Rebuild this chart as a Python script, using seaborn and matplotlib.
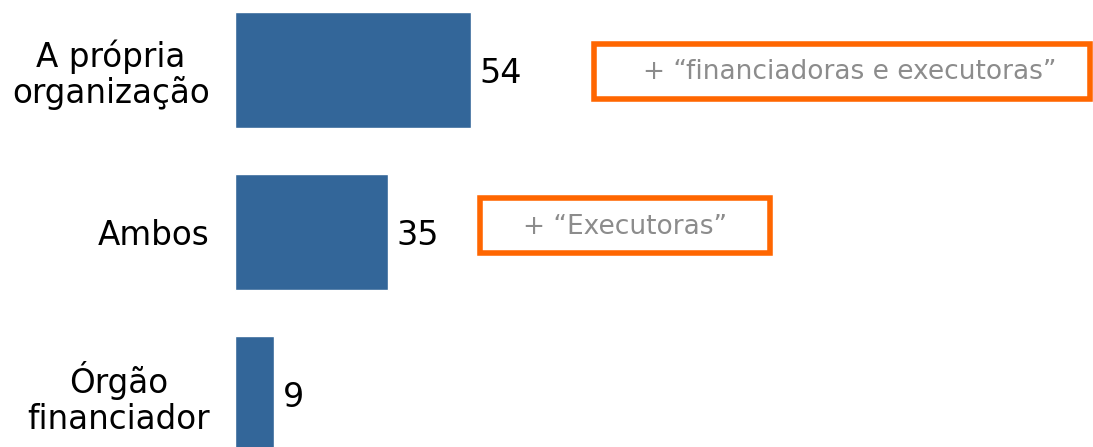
import pandas as pd
import matplotlib
matplotlib.use("Agg")
import matplotlib.pyplot as plt
import matplotlib.patches as mpatches
import seaborn as sns

# data
categories = ["A própria\norganização", "Ambos", "Órgão\nfinanciador"]
values = [54, 35, 9]
notes = ["+ \u201cfinanciadoras e executoras\u201d", "+ \u201cExecutoras\u201d"]

BAR_COLOR = "#336699"
BOX_COLOR = "#ff6600"
NOTE_COLOR = "#8c8c8c"


def main():
    sns.set_style("white")
    plt.rcParams["font.family"] = ["DejaVu Sans"]

    W, H = 1093, 447
    fig = plt.figure(figsize=(W / 100, H / 100), dpi=100)
    ax = fig.add_axes([235 / W, 0, 1 - 235 / W, 1])

    df = pd.DataFrame({"cat": categories, "val": values})
    sns.barplot(data=df, x="val", y="cat", color=BAR_COLOR, saturation=1,
                width=0.72, ax=ax)

    ax.set_xlim(0, (W - 235) / 4.37)
    ax.set_ylim(2 + 53 / 162, -70 / 162)
    ax.set_xlabel("")
    ax.set_ylabel("")
    ax.set_xticks([])
    sns.despine(ax=ax, left=True, bottom=True)
    ax.tick_params(axis="y", length=0, pad=18, labelcolor="black")
    for lbl in ax.get_yticklabels():
        lbl.set_fontsize(23.5)
        lbl.set_multialignment("center")
        lbl.set_linespacing(1.1)

    for i, v in enumerate(values):
        ax.text(v + 2, i + 0.02, str(v), va="center", ha="left", fontsize=24,
                color="black")

    # highlight boxes (pixel coords, top-left origin)
    def px_rect(x0, y0, x1, y1):
        r = mpatches.Rectangle((x0 / W, 1 - y1 / H), (x1 - x0) / W, (y1 - y0) / H,
                               transform=fig.transFigure, fill=False,
                               edgecolor=BOX_COLOR, linewidth=4, clip_on=False)
        fig.add_artist(r)

    px_rect(593.5, 44.5, 1090, 98.5)
    px_rect(479.5, 197.5, 770, 253)
    fig.text(850 / W, 1 - 72 / H, notes[0], ha="center", va="center",
             fontsize=19, color=NOTE_COLOR)
    fig.text(625 / W, 1 - 227 / H, notes[1], ha="center", va="center",
             fontsize=19, color=NOTE_COLOR)

    fig.savefig("out.png", dpi=100)
    plt.close(fig)


if __name__ == "__main__":
    main()
